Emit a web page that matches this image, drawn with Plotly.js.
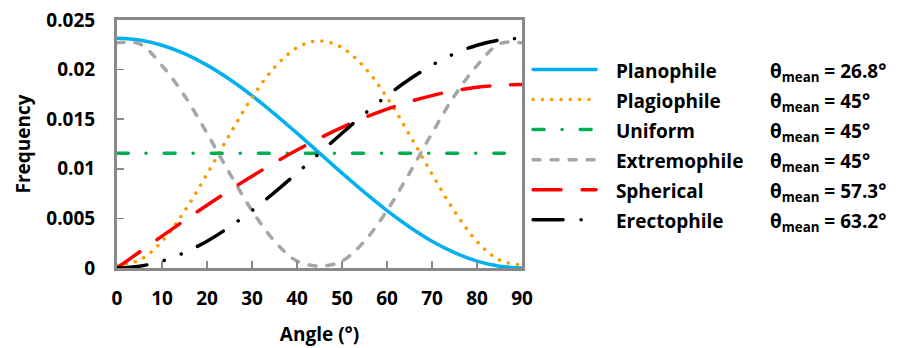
<!DOCTYPE html>
<html>
<head>
<meta charset="utf-8">
<script src="https://cdn.plot.ly/plotly-3.0.1.min.js"></script>
<style>
  html, body { margin: 0; padding: 0; background: #fff; }
  #chart { width: 900px; height: 348px; }
  .scatterlayer .js-line, .legend .js-line { stroke-linecap: round; stroke-linejoin: round; }
</style>
</head>
<body>
<div id="chart"></div>
<script>
// Angle (degrees)
const angles = [0, 5, 10, 15, 20, 25, 30, 35, 40, 45, 50, 55, 60, 65, 70, 75, 80, 85, 90];

// Frequency values
const planophile   = [0.02316, 0.02298, 0.02246, 0.02161, 0.02045, 0.01902, 0.01737, 0.01554, 0.01359, 0.01158, 0.00957, 0.00762, 0.00579, 0.00414, 0.00270, 0.00155, 0.00070, 0.00018, 0.00000];
const plagiophile  = [0.00030, 0.00080, 0.00268, 0.00573, 0.00947, 0.01344, 0.01718, 0.02022, 0.02221, 0.02290, 0.02221, 0.02022, 0.01718, 0.01344, 0.00947, 0.00573, 0.00268, 0.00080, 0.00030];
const uniform      = [0.01158, 0.01158, 0.01158, 0.01158, 0.01158, 0.01158, 0.01158, 0.01158, 0.01158, 0.01158, 0.01158, 0.01158, 0.01158, 0.01158, 0.01158, 0.01158, 0.01158, 0.01158, 0.01158];
const extremophile = [0.02270, 0.02260, 0.02040, 0.01737, 0.01359, 0.00957, 0.00579, 0.00271, 0.00070, 0.00020, 0.00070, 0.00271, 0.00579, 0.00957, 0.01359, 0.01737, 0.02040, 0.02260, 0.02270];
const spherical    = [0.00000, 0.00161, 0.00321, 0.00479, 0.00633, 0.00782, 0.00925, 0.01061, 0.01189, 0.01308, 0.01417, 0.01516, 0.01602, 0.01677, 0.01738, 0.01787, 0.01822, 0.01843, 0.01850];
const erectophile  = [0.00000, 0.00018, 0.00070, 0.00155, 0.00270, 0.00414, 0.00579, 0.00762, 0.00957, 0.01158, 0.01359, 0.01554, 0.01737, 0.01902, 0.02045, 0.02161, 0.02246, 0.02298, 0.02316];

// Legend labels
const seriesNames = ["Planophile", "Plagiophile", "Uniform", "Extremophile", "Spherical", "Erectophile"];
const meanAngles  = ["26.8", "45", "45", "45", "57.3", "63.2"];

const FONT = "'Open Sans', 'Noto Sans', 'DejaVu Sans', sans-serif";
const FS = 19;

const styles = [
  {color: "#00B0F0", dash: "solid"},
  {color: "#FF9900", dash: "0.1px,9.2px"},
  {color: "#00B050", dash: "11px,18px,0.1px,18px"},
  {color: "#A6A6A6", dash: "7px,11px"},
  {color: "#FF0000", dash: "28px,21px"},
  {color: "#000000", dash: "30px,18px,0.1px,18px,0.1px,18px"}
];
const seriesData = [planophile, plagiophile, uniform, extremophile, spherical, erectophile];

const traces = seriesData.map((ys, i) => ({
  type: "scatter",
  mode: "lines",
  x: angles,
  y: ys,
  name: '<span style="font-size:19px">&nbsp;&nbsp;&nbsp;' + seriesNames[i] + '</span>',
  line: {color: styles[i].color, width: 3.5, dash: styles[i].dash, shape: "spline", smoothing: 1},
  hoverinfo: "x+y"
}));

const annotations = meanAngles.map((m, i) => ({
  xref: "paper", yref: "paper",
  x: 1.607, y: 1 - (52 + i * 30) / 248,
  xanchor: "left", yanchor: "middle",
  text: "θ<sub>mean</sub> = " + m + "°",
  showarrow: false,
  font: {family: FONT, size: FS, color: "#000", weight: "bold"}
}));

const layout = {
  width: 900, height: 348,
  margin: {l: 117, r: 378, t: 20, b: 80},
  paper_bgcolor: "#fff", plot_bgcolor: "#fff",
  font: {family: FONT, size: FS, color: "#000", weight: "bold"},
  showlegend: true,
  legend: {
    x: 1.015, xanchor: "left", y: 1 - 29.5 / 248, yanchor: "top",
    itemwidth: 63,
    font: {family: FONT, size: 20.8, color: "#000", weight: "bold"},
    bgcolor: "rgba(0,0,0,0)"
  },
  xaxis: {
    range: [0, 90], dtick: 10, tick0: 0,
    showgrid: false, zeroline: false,
    showline: true, mirror: true, linecolor: "#898989", linewidth: 3,
    ticks: "inside", ticklen: 7, tickwidth: 1.5, tickcolor: "#898989",
    ticklabelstandoff: 11,
    tickfont: {family: FONT, size: FS, color: "#000", weight: "bold"},
    title: {text: "Angle (°)", font: {family: FONT, size: FS, color: "#000", weight: "bold"}, standoff: 18}
  },
  yaxis: {
    range: [0, 0.025], dtick: 0.005, tick0: 0,
    showgrid: false, zeroline: false,
    showline: true, mirror: true, linecolor: "#898989", linewidth: 3,
    ticks: "inside", ticklen: 7, tickwidth: 1.5, tickcolor: "#898989",
    ticklabelstandoff: 15,
    tickfont: {family: FONT, size: FS, color: "#000", weight: "bold"},
    title: {text: "Frequency", font: {family: FONT, size: FS, color: "#000", weight: "bold"}, standoff: 11}
  },
  annotations: annotations
};

Plotly.newPlot("chart", traces, layout, {displayModeBar: false, staticPlot: true});
</script>
</body>
</html>
